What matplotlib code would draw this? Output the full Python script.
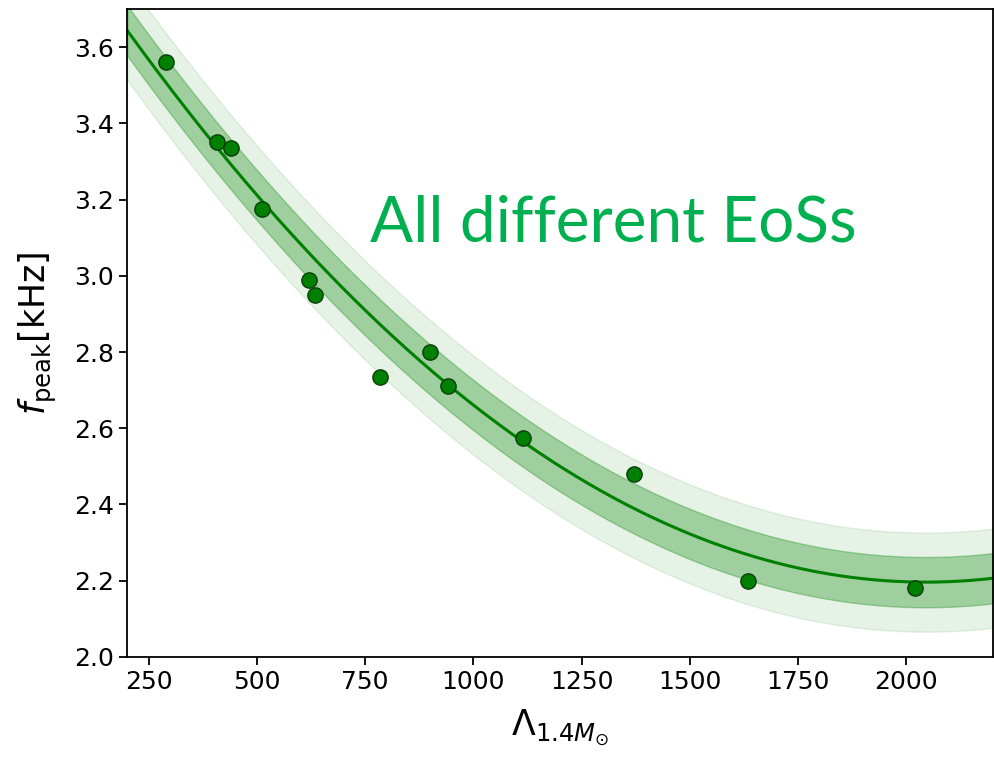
import matplotlib
matplotlib.use("Agg")
import matplotlib.pyplot as plt
import numpy as np

# tidal deformability of 1.4 Msun star and peak frequency, one point per EoS
lam = [290, 408, 440, 512, 620, 635, 785, 900, 942, 1115, 1370, 1635, 2020]
fpeak = [3.56, 3.35, 3.335, 3.175, 2.99, 2.95, 2.735, 2.80, 2.71, 2.575, 2.48, 2.20, 2.18]

# quadratic fit f = a + b*L + c*L^2 and band half widths
fit_coef = [3.9748, -1.7391e-3, 4.251e-7]
band_inner = 0.066
band_outer = 0.13

x = np.linspace(200, 2200, 400)
y = fit_coef[0] + fit_coef[1] * x + fit_coef[2] * x**2

fig = plt.figure(figsize=(9.94, 7.62), dpi=100)
ax = fig.add_axes([0.128, 0.138, 0.8707, 0.850])

ax.fill_between(x, y - band_outer, y + band_outer, color="green", alpha=0.1)
ax.fill_between(x, y - band_inner, y + band_inner, color="green", alpha=0.3)
ax.plot(x, y, color="green", lw=2.2)
ax.plot(lam, fpeak, "o", color="green", mec="#0b3d0b", mew=1.0, ms=11)

ax.set_xlim(200, 2200)
ax.set_ylim(2.0, 3.7)
ax.set_xticks([250, 500, 750, 1000, 1250, 1500, 1750, 2000])
ax.set_yticks([2.0, 2.2, 2.4, 2.6, 2.8, 3.0, 3.2, 3.4, 3.6])
ax.tick_params(labelsize=18, length=6, width=1.3)
for s in ax.spines.values():
    s.set_linewidth(1.3)

ax.set_xlabel(r"$\Lambda_{1.4M_{\odot}}$", fontsize=25, labelpad=10)
ax.set_ylabel(r"$f_{\rm peak}$[kHz]", fontsize=25, labelpad=11)

ax.text(760, 3.091, "All different EoSs", color="#00B050", fontsize=46,
        family="Lato", ha="left", va="baseline")

fig.savefig("out.png", dpi=100)
